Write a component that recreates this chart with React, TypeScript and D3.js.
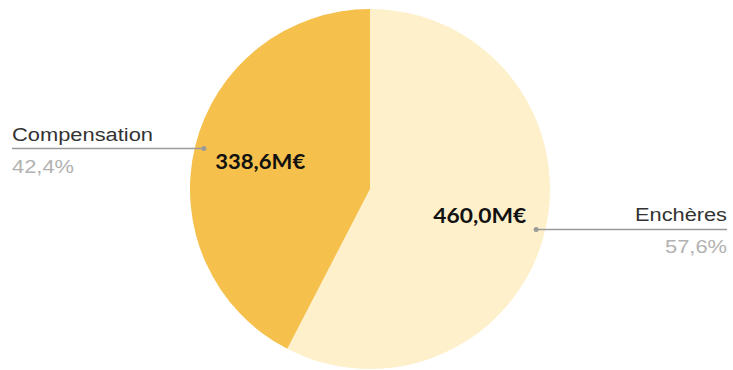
import React from "react";
import * as d3 from "d3";

const categories = ["Enchères", "Compensation"];
const values = [460.0, 338.6];
const valueLabels = ["460,0M€", "338,6M€"];
const percentLabels = ["57,6%", "42,4%"];
const colors = ["#FEF0CB", "#F5C04B"];

const W = 733;
const H = 370;
const cx = 370;
const cy = 189;
const R = 180;

// approximate rendered widths of texts in the reference
const catWidths = [92, 141];
const pctWidths = [62, 62];
const valWidths = [93, 90];

export default function App() {
  const pie = d3.pie<number>().sort(null).value((d) => d);
  const arcs = pie(values);
  const arcGen = d3.arc<d3.PieArcDatum<number>>().innerRadius(0).outerRadius(R);
  const labelArc = d3.arc<d3.PieArcDatum<number>>().innerRadius(113).outerRadius(113);
  const dotArc = d3.arc<d3.PieArcDatum<number>>().innerRadius(171).outerRadius(171);

  return (
    <svg
      width={W}
      height={H}
      style={{ position: "absolute", left: 0, top: 0, background: "#fff" }}
    >
      <g transform={`translate(${cx},${cy})`}>
        {arcs.map((a, i) => (
          <path key={i} d={arcGen(a) || ""} fill={colors[i]} />
        ))}
      </g>
      {arcs.map((a, i) => {
        const [lx, ly] = labelArc.centroid(a);
        return (
          <text
            key={"v" + i}
            x={cx + lx - valWidths[i] / 2}
            y={cy + ly + 7}
            textLength={valWidths[i]}
            lengthAdjust="spacingAndGlyphs"
            fontFamily="Lato, 'Open Sans', sans-serif"
            fontWeight="bold"
            fontSize={21}
            fill="#111"
          >
            {valueLabels[i]}
          </text>
        );
      })}
      {arcs.map((a, i) => {
        const [dx, dy] = dotArc.centroid(a);
        const px = cx + dx;
        const py = cy + dy;
        const right = px > cx;
        const endX = right ? 727 : 12;
        const catX = right ? endX - catWidths[i] : endX;
        const pctX = right ? endX - pctWidths[i] : endX;
        return (
          <g key={"l" + i}>
            <line x1={px} y1={py} x2={endX} y2={py} stroke="#9a9a9a" strokeWidth={1.5} />
            <circle cx={px} cy={py} r={2.5} fill="#9a9a9a" />
            <text
              x={catX}
              y={py - 8}
              textLength={catWidths[i]}
              lengthAdjust="spacingAndGlyphs"
              fontFamily="'Liberation Sans', Arial, sans-serif"
              fontSize={18}
              fill="#333"
            >
              {categories[i]}
            </text>
            <text
              x={pctX}
              y={py + 24}
              textLength={pctWidths[i]}
              lengthAdjust="spacingAndGlyphs"
              fontFamily="'Liberation Sans', Arial, sans-serif"
              fontSize={18}
              fill="#b2b2b2"
            >
              {percentLabels[i]}
            </text>
          </g>
        );
      })}
    </svg>
  );
}
